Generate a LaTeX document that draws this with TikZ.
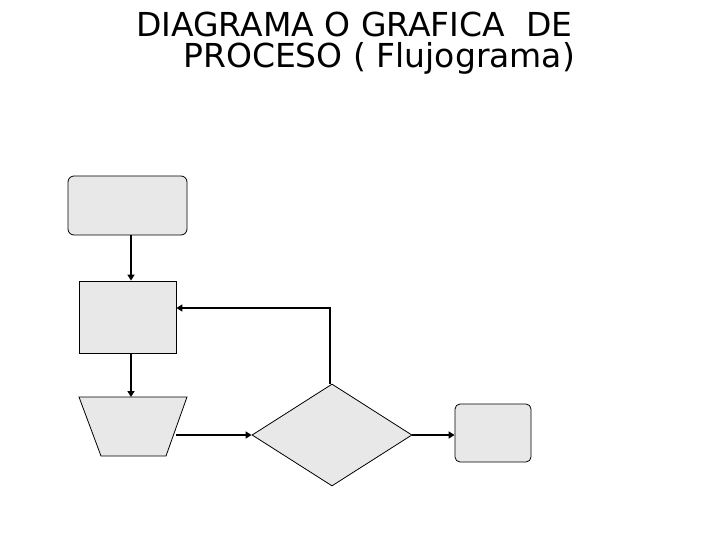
\documentclass[tikz,border=0pt]{standalone}
\usepackage{fontspec}
\setmainfont{DejaVu Sans}
\usetikzlibrary{shapes.geometric,arrows.meta}
\definecolor{boxfill}{RGB}{232,232,232}
\tikzset{
  shapebox/.style={draw=black, line width=0.8pt, fill=boxfill, inner sep=0pt},
  conn/.style={draw=black, line width=2.4pt, -{Triangle[length=6pt,width=7pt]}},
  titletext/.style={anchor=base west, inner sep=0pt, font=\fontsize{33}{36}\selectfont}
}
\begin{document}
\begin{tikzpicture}[x=1pt,y=-1pt]
\useasboundingbox (0,0) rectangle (720,540);
\node[titletext] (t1) at (136,37) {DIAGRAMA O GRAFICA\ \ DE};
\node[titletext] (t2) at (183,68) {PROCESO ( Flujograma)};

\node[shapebox, rounded corners=6pt, minimum width=119pt, minimum height=59pt] (start) at (127.5,205.5) {};
\node[shapebox, minimum width=97pt, minimum height=72pt] (proc) at (127.5,317) {};
% trapezoid (manual input)
\coordinate (trapTL) at (79,397);
\coordinate (trapTR) at (187,397);
\coordinate (trapBR) at (166,456);
\coordinate (trapBL) at (101,456);
\draw[shapebox] (trapTL) -- (trapTR) -- (trapBR) -- (trapBL) -- cycle;
\coordinate (trapN) at (131,397);
\coordinate (trapE) at (176,435);
\node[shapebox, diamond, minimum width=160pt, minimum height=102pt] (dia) at (332,435) {};
\node[shapebox, rounded corners=5pt, minimum width=76pt, minimum height=58pt] (end) at (493,433) {};

\draw[conn] ([xshift=3.5pt]start.south) -- ([xshift=3.5pt]proc.north);
\draw[conn] ([xshift=3.5pt]proc.south) -- (trapN);
\draw[conn] (trapE) -- (dia.west);
\draw[conn] (dia.east) -- (end.west |- dia.east);
\draw[conn] ([xshift=-2pt]dia.north) |- ([yshift=9pt]proc.east);
\end{tikzpicture}
\end{document}
